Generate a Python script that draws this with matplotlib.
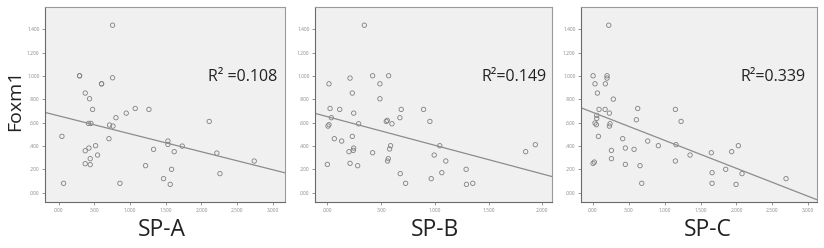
import numpy as np
import matplotlib.pyplot as plt

# data (SPSS style scatter plots)
spa_x = [0.756, 0.294, 0.294, 0.756, 0.602, 0.602, 0.373, 0.434, 0.476, 1.073, 1.265, 0.947,
         0.803, 2.109, 0.420, 0.453, 0.714, 0.761, 0.047, 0.705, 1.531, 1.531, 1.731, 0.518,
         0.425, 1.330, 0.373, 1.619, 2.216, 0.546, 0.443, 2.739, 0.373, 0.443, 1.218, 1.582,
         2.259, 1.470, 0.070, 0.859, 1.563]
spa_y = [1.434, 1.001, 1.001, 0.984, 0.932, 0.932, 0.853, 0.804, 0.713, 0.721, 0.713, 0.681,
         0.642, 0.610, 0.593, 0.593, 0.579, 0.570, 0.482, 0.462, 0.442, 0.413, 0.399, 0.402,
         0.382, 0.371, 0.359, 0.351, 0.339, 0.322, 0.291, 0.271, 0.248, 0.240, 0.231, 0.200,
         0.163, 0.120, 0.080, 0.080, 0.071]

spb_x = [0.344, 0.421, 0.570, 0.211, 0.015, 0.489, 0.232, 0.489, 0.025, 0.115, 0.687, 0.895,
         0.245, 0.037, 0.675, 0.557, 0.548, 0.954, 0.291, 0.601, 0.015, 0.006, 0.065, 0.232,
         0.133, 0.588, 1.046, 0.579, 0.245, 0.241, 0.201, 0.421, 1.845, 1.935, 0.994, 1.102,
         0.567, 0.560, 0.000, 0.211, 0.282, 1.291, 0.678, 1.065, 0.966, 0.728, 1.294, 1.353]
spb_y = [1.434, 1.001, 1.001, 0.981, 0.932, 0.932, 0.853, 0.804, 0.721, 0.713, 0.713, 0.713,
         0.681, 0.642, 0.642, 0.619, 0.610, 0.610, 0.590, 0.590, 0.582, 0.570, 0.462, 0.482,
         0.442, 0.402, 0.402, 0.374, 0.382, 0.362, 0.351, 0.342, 0.351, 0.411, 0.322, 0.271,
         0.291, 0.271, 0.242, 0.251, 0.231, 0.200, 0.163, 0.171, 0.120, 0.080, 0.071, 0.080]

spc_x = [0.223, 0.005, 0.199, 0.199, 0.032, 0.176, 0.065, 0.287, 0.626, 1.150, 0.088, 0.172,
         0.232, 0.056, 0.056, 0.607, 1.229, 0.032, 0.051, 0.241, 0.232, 0.079, 0.417, 0.765,
         0.913, 1.159, 2.026, 0.454, 0.575, 0.260, 1.650, 1.933, 1.354, 0.260, 1.150, 0.023,
         0.005, 0.454, 0.658, 1.850, 1.660, 2.077, 2.689, 0.682, 1.660, 1.994]
spc_y = [1.434, 1.001, 1.001, 0.981, 0.932, 0.932, 0.853, 0.801, 0.721, 0.713, 0.713, 0.713,
         0.681, 0.662, 0.636, 0.624, 0.610, 0.596, 0.582, 0.590, 0.570, 0.482, 0.462, 0.442,
         0.402, 0.411, 0.402, 0.382, 0.371, 0.362, 0.342, 0.351, 0.322, 0.291, 0.271, 0.262,
         0.251, 0.242, 0.231, 0.200, 0.171, 0.163, 0.120, 0.080, 0.080, 0.071]

names = ['SP-A', 'SP-B', 'SP-C']
r2_labels = ['R² =0.108', 'R²=0.149', 'R²=0.339']
fit_intercept = [0.658, 0.651, 0.688]
fit_slope = [-0.154, -0.2455, -0.240]

x_ticks = [[0, 0.5, 1.0, 1.5, 2.0, 2.5, 3.0],
           [0, 0.5, 1.0, 1.5, 2.0],
           [0, 0.5, 1.0, 1.5, 2.0, 2.5, 3.0]]
x_ticklabels = [['.000', '.500', '1.000', '1.500', '2.000', '2.500', '3.000'],
                ['.000', '.500', '1.000', '1.500', '2.000'],
                ['.000', '.500', '1.000', '1.500', '2.000', '2.500', '3.000']]
y_ticks = [0, 0.2, 0.4, 0.6, 0.8, 1.0, 1.2, 1.4]
y_ticklabels = ['.000', '.200', '.400', '.600', '.800', '1.000', '1.200', '1.400']

xs = [spa_x, spb_x, spc_x]
ys = [spa_y, spb_y, spc_y]
xlims = [(-0.19, 3.17), (-0.115, 2.09), (-0.163, 3.12)]
ylim = (-0.08, 1.59)

W, H = 824, 248
boxes = [(45, 285), (315, 552), (581, 817)]
top, bottom = 7, 202
r2_pos = [(208, 77), (482, 77), (740, 77)]
xlabel_pos = [162, 435, 708]

plt.rcParams['font.family'] = ['Open Sans', 'DejaVu Sans']

fig = plt.figure(figsize=(W / 100, H / 100), dpi=100)
for i in range(3):
    l, r = boxes[i]
    ax = fig.add_axes([l / W, 1 - bottom / H, (r - l) / W, (bottom - top) / H])
    ax.set_facecolor('#f0f0f0')
    for sp in ax.spines.values():
        sp.set_color('#9a9a9a')
        sp.set_linewidth(0.8)
    ax.spines['left'].set_color('#6a6a6a')
    ax.spines['bottom'].set_color('#6a6a6a')
    ax.scatter(xs[i], ys[i], s=10, facecolors='none', edgecolors='#808080', linewidths=0.6)
    lx = np.array(xlims[i])
    ax.plot(lx, fit_intercept[i] + fit_slope[i] * lx, color='#8c8c8c', linewidth=0.9)
    ax.set_xlim(*xlims[i])
    ax.set_ylim(*ylim)
    ax.set_xticks(x_ticks[i])
    ax.set_xticklabels(x_ticklabels[i])
    ax.set_yticks(y_ticks)
    ax.set_yticklabels(y_ticklabels)
    ax.tick_params(labelsize=3.5, length=2, width=0.5, colors='#6a6a6a', labelcolor='#888888', pad=2)
    fig.text(r2_pos[i][0] / W, 1 - r2_pos[i][1] / H, r2_labels[i], fontsize=11.5,
             ha='left', va='center', color='#222222')
    fig.text(xlabel_pos[i] / W, 1 - 230 / H, names[i], fontsize=16.5,
             ha='center', va='center', color='#222222')

fig.text(15 / W, 1 - 100 / H, 'Foxm1', fontsize=14, rotation=90,
         ha='center', va='center', color='#222222')

fig.savefig('out.png', dpi=100, facecolor='white')
